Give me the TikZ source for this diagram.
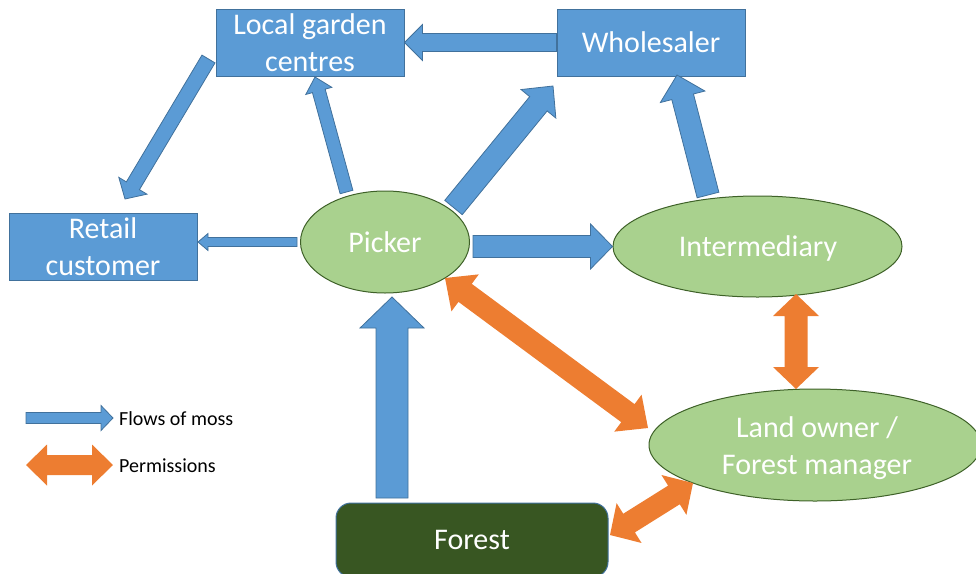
\documentclass[tikz,border=0pt]{standalone}
\usepackage{fontspec}
\setmainfont{Carlito}
\usetikzlibrary{calc,shapes.geometric}
\definecolor{flowblue}{HTML}{5B9BD5}
\definecolor{lineblue}{HTML}{41719C}
\definecolor{ovalgreen}{HTML}{A9D18E}
\definecolor{ovalline}{HTML}{3E6128}
\definecolor{permorange}{HTML}{ED7D31}
\definecolor{forestgreen}{HTML}{385622}
% single block arrow: style, start, tip, half shaft, half head, head length
\newcommand\flowarrow[6]{%
  \coordinate (fa-c) at ($(#3)!#6!(#2)$);
  \draw[#1] ($(#2)!#4!90:(#3)$) -- ($(fa-c)!#4!90:(#3)$) -- ($(fa-c)!#5!90:(#3)$) -- (#3)
    -- ($(fa-c)!#5!-90:(#3)$) -- ($(fa-c)!#4!-90:(#3)$) -- ($(#2)!#4!-90:(#3)$) -- cycle;}
% double block arrow: style, tip 1, tip 2, half shaft, half head, head length
\newcommand\permarrow[6]{%
  \coordinate (pa-a) at ($(#2)!#6!(#3)$);
  \coordinate (pa-b) at ($(#3)!#6!(#2)$);
  \fill[#1] (#2) -- ($(pa-a)!#5!90:(#3)$) -- ($(pa-a)!#4!90:(#3)$) -- ($(pa-b)!#4!90:(#3)$)
    -- ($(pa-b)!#5!90:(#3)$) -- (#3) -- ($(pa-b)!#5!-90:(#3)$) -- ($(pa-b)!#4!-90:(#3)$)
    -- ($(pa-a)!#4!-90:(#3)$) -- ($(pa-a)!#5!-90:(#3)$) -- cycle;}
\tikzset{
  bigtext/.style={font=\fontsize{30}{36.6}\selectfont},
  bluebox/.style={rectangle, draw=lineblue, fill=flowblue, line width=1pt, text=white,
    minimum width=188pt, minimum height=67pt, inner sep=0pt, align=center, bigtext},
  oval/.style={ellipse, draw=ovalline, fill=ovalgreen, line width=1pt, text=white,
    inner sep=0pt, align=center, bigtext},
  ovaltext/.style={text=white, inner sep=0pt, align=center, bigtext},
  forestbox/.style={rectangle, rounded corners=15pt, draw=lineblue, fill=forestgreen, line width=1pt,
    text=white, minimum width=272pt, minimum height=74pt, inner sep=0pt, bigtext},
  flowstyle/.style={fill=flowblue, draw=lineblue, line width=0.8pt, line join=miter},
  permstyle/.style={fill=permorange},
  legendtext/.style={font=\fontsize{20}{24}\selectfont, anchor=west, inner sep=0pt}
}
\begin{document}
\begin{tikzpicture}[x=1pt,y=-1pt]
\useasboundingbox (0,0) rectangle (976,573);
\clip (0,0) rectangle (976,573);
% nodes
\node[bluebox] (lgc) at (310,42.5) {Local garden\\centres};
\node[bluebox] (wh) at (651,42.5) {Wholesaler};
\node[bluebox] (retail) at (103,246.5) {Retail\\customer};
\node[oval, minimum width=169pt, minimum height=102pt] (picker) at (385,242) {Picker};
\node[oval, minimum width=289pt, minimum height=101pt] (inter) at (757.5,246.5) {};
\node[ovaltext] (intertext) at (758,248) {Intermediary};
\node[oval, minimum width=332pt, minimum height=112pt] (land) at (815,445) {};
\node[ovaltext] (landtext) at (817,448) {Land owner /\\Forest manager};
\node[forestbox] (forest) at (472,540) {Forest};
% connector end points
\coordinate (a2s) at (208.5,59);   \coordinate (a2e) at (125,199);
\coordinate (a3s) at (346.5,192);  \coordinate (a3e) at (315,77);
\coordinate (a4s) at (453.5,207.5);\coordinate (a4e) at (553,86);
\coordinate (a5s) at (708,195);    \coordinate (a5e) at (677,75);
\coordinate (a6s) at (297,242);    \coordinate (a6e) at (198,242);
\coordinate (a7s) at (473,246.5);  \coordinate (a7e) at (inter.west);
\coordinate (a8s) at (392,498);    \coordinate (a8e) at (392,297);
\coordinate (o1a) at (445,278);    \coordinate (o1b) at (648,428);
\coordinate (o2a) at (796,294);    \coordinate (o2b) at (796,389);
\coordinate (o3a) at (610,535);    \coordinate (o3b) at (693,483);
% flows of moss
\flowarrow{flowstyle}{wh.west}{lgc.east}{9pt}{18pt}{18pt}
\flowarrow{flowstyle}{a2s}{a2e}{7.6pt}{16.4pt}{15.4pt}
\flowarrow{flowstyle}{a3s}{a3e}{6.6pt}{13.5pt}{14.4pt}
\flowarrow{flowstyle}{a4s}{a4e}{11.3pt}{22.5pt}{23pt}
\flowarrow{flowstyle}{a5s}{a5e}{11.2pt}{23pt}{22.5pt}
\flowarrow{flowstyle}{a6s}{a6e}{4.5pt}{8.5pt}{10pt}
\flowarrow{flowstyle}{a7s}{a7e}{11pt}{22.5pt}{22pt}
\flowarrow{flowstyle}{a8s}{a8e}{16pt}{32pt}{31pt}
% permissions
\permarrow{permstyle}{o1a}{o1b}{11.2pt}{23pt}{25pt}
\permarrow{permstyle}{o2a}{o2b}{11.5pt}{23pt}{22pt}
\permarrow{permstyle}{o3a}{o3b}{11pt}{23.5pt}{22.5pt}
% legend
\coordinate (l1s) at (26,418); \coordinate (l1e) at (113,418);
\coordinate (l2s) at (26,465); \coordinate (l2e) at (113,465);
\flowarrow{flowstyle}{l1s}{l1e}{5.5pt}{12.5pt}{12pt}
\permarrow{permstyle}{l2s}{l2e}{10pt}{20.5pt}{21pt}
\node[legendtext] (lt1) at (119,419) {Flows of moss};
\node[legendtext] (lt2) at (119,466) {Permissions};
\end{tikzpicture}
\end{document}
